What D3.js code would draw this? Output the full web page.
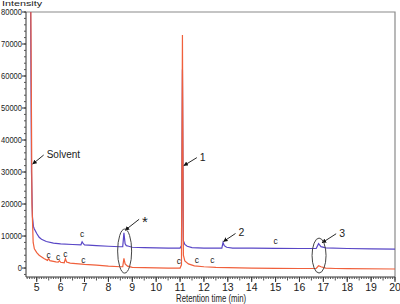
<!DOCTYPE html>
<html>
<head>
<meta charset="utf-8">
<script src="https://cdn.jsdelivr.net/npm/d3@7"></script>
<style>
  body { margin: 0; background: #fff; }
  svg text { font-family: Arial, "Liberation Sans", sans-serif; fill: #222; }
</style>
</head>
<body>
<div id="chart"></div>
<script>
// Retention times (min) and intensities.
const blueTimes = [4.70, 4.74, 4.78, 4.82, 4.86, 4.90, 5.00, 5.10, 5.20, 5.40, 5.70, 6.00, 6.50, 6.85, 6.90, 6.95, 7.00, 7.50, 8.00, 8.50, 8.60, 8.65, 8.70, 8.75, 8.85, 9.00, 9.50, 10.00, 10.50, 11.00, 11.06, 11.10, 11.14, 11.20, 11.30, 11.50, 12.00, 12.50, 12.75, 12.80, 12.85, 12.95, 13.20, 14.00, 15.00, 16.00, 16.70, 16.80, 16.90, 17.10, 18.00, 19.00, 20.00];
const blueValues = [85000, 85000, 30000, 16000, 13000, 12200, 10800, 9600, 9000, 8300, 7800, 7550, 7350, 7250, 8200, 7600, 7250, 7000, 6800, 6650, 6700, 11000, 7600, 7000, 6800, 6500, 6400, 6300, 6250, 6250, 7000, 62000, 8500, 7400, 6800, 6400, 6250, 6200, 6200, 8000, 7000, 6500, 6250, 6200, 6150, 6100, 6100, 7600, 6700, 6300, 6100, 6000, 5900];

const redTimes = [4.70, 4.75, 4.80, 4.85, 4.90, 5.00, 5.10, 5.30, 5.45, 5.50, 5.55, 5.80, 5.90, 5.95, 6.00, 6.15, 6.20, 6.25, 6.40, 7.00, 7.50, 8.00, 8.50, 8.60, 8.65, 8.70, 8.80, 9.00, 9.50, 10.00, 10.50, 11.00, 11.06, 11.10, 11.14, 11.20, 11.35, 11.60, 12.00, 12.50, 13.00, 14.00, 15.00, 16.00, 16.70, 16.80, 16.90, 17.10, 17.50, 18.00, 20.00];
const redValues = [85000, 85000, 20000, 8000, 6000, 4800, 4000, 3000, 2400, 3000, 2300, 1900, 1850, 2300, 1800, 1650, 2900, 1900, 1550, 1150, 900, 600, 400, 450, 3000, 1300, 600, 200, 100, 50, 0, 0, 1000, 72800, 4000, 2200, 1300, 700, 400, 200, 100, 0, -100, -150, -150, 700, 400, 0, -150, -200, -300];

const yTicks = [0, 10000, 20000, 30000, 40000, 50000, 60000, 70000, 80000];
const xTicks = [5, 6, 7, 8, 9, 10, 11, 12, 13, 14, 15, 16, 17, 18, 19, 20];

// Small "c" markers: [time, intensity of label, series]
const cLabels = [[6.9, 9700, 'b'], [15.0, 7500, 'b'], [5.5, 3200, 'r'], [5.9, 2500, 'r'], [6.2, 3400, 'r'], [6.95, 1600, 'r'], [10.95, 1300, 'r'], [11.7, 1600, 'r'], [12.35, 1600, 'r']];

const W = 400, H = 304;
const margin = {top: 12, right: 5, bottom: 27, left: 26};
const width = W - margin.left - margin.right;
const height = H - margin.top - margin.bottom;

const svg = d3.select('#chart').append('svg')
    .attr('width', W).attr('height', H);
const g = svg.append('g')
    .attr('transform', `translate(${margin.left},${margin.top})`);

const x = d3.scaleLinear().domain([4.55, 20]).range([0, width]);
const y = d3.scaleLinear().domain([-2800, 80000]).range([height, 0]);

const blueColor = '#5846c6';
const redColor = '#f0603c';

// Frame (top and right), grey.
g.append('path')
    .attr('d', `M0,0H${width}V${height}`)
    .attr('fill', 'none').attr('stroke', '#8a8a8a').attr('stroke-width', 1.2);

// Traces.
g.append('clipPath').attr('id', 'clip')
    .append('rect').attr('width', width).attr('height', height);
const line = d3.line().x(d => x(d[0])).y(d => y(d[1]));
const plot = g.append('g').attr('clip-path', 'url(#clip)');
plot.append('path')
    .datum(blueTimes.map((t, i) => [t, blueValues[i]]))
    .attr('d', line).attr('fill', 'none')
    .attr('stroke', blueColor).attr('stroke-width', 1.2);
plot.append('path')
    .datum(redTimes.map((t, i) => [t, redValues[i]]))
    .attr('d', line).attr('fill', 'none')
    .attr('stroke', redColor).attr('stroke-width', 1.2);

// Y axis with minor ticks.
const yAxis = g.append('g');
yAxis.append('line').attr('y1', 0).attr('y2', height).attr('stroke', '#333');
yAxis.selectAll('.minor')
    .data(d3.range(-2000, 80001, 2000))
    .enter().append('line')
        .attr('x1', -2).attr('x2', 0)
        .attr('y1', d => y(d)).attr('y2', d => y(d))
        .attr('stroke', '#555');
yAxis.selectAll('.major')
    .data(yTicks)
    .enter().append('line')
        .attr('x1', -4).attr('x2', 0)
        .attr('y1', d => y(d)).attr('y2', d => y(d))
        .attr('stroke', '#333');
// The original uses a narrow face; squeeze the labels to the same width.
yAxis.selectAll('text')
    .data(yTicks)
    .enter().append('text')
        .attr('x', -4).attr('y', d => y(d) + 3.3)
        .attr('text-anchor', 'end')
        .style('font-size', '9.5px')
        .attr('textLength', d => String(d).length * 4.2)
        .attr('lengthAdjust', 'spacingAndGlyphs')
        .text(d => d);

// X axis with minor ticks.
const xAxis = g.append('g').attr('transform', `translate(0,${height})`);
xAxis.append('line').attr('x1', 0).attr('x2', width).attr('stroke', '#333');
xAxis.selectAll('.minor')
    .data(d3.range(46, 201).map(d => d / 10))
    .enter().append('line')
        .attr('x1', d => x(d)).attr('x2', d => x(d))
        .attr('y1', 0).attr('y2', d => (Math.round(d * 10) % 5 === 0 ? 3.5 : 2))
        .attr('stroke', '#555');
xAxis.selectAll('.major')
    .data(xTicks)
    .enter().append('line')
        .attr('x1', d => x(d)).attr('x2', d => x(d))
        .attr('y1', 0).attr('y2', 5)
        .attr('stroke', '#333');
xAxis.selectAll('text')
    .data(xTicks)
    .enter().append('text')
        .attr('x', d => x(d)).attr('y', 14)
        .attr('text-anchor', 'middle')
        .style('font-size', '10.5px')
        .text(d => d);
xAxis.append('text')
    .attr('x', x(12.3)).attr('y', 25)
    .attr('text-anchor', 'middle')
    .style('font-size', '11px')
    .attr('textLength', 70)
    .attr('lengthAdjust', 'spacingAndGlyphs')
    .text('Retention time (min)');

svg.append('text')
    .attr('x', 2).attr('y', 5.5)
    .style('font-size', '8px')
    .attr('textLength', 40)
    .attr('lengthAdjust', 'spacingAndGlyphs')
    .text('Intensity');

// Annotations: arrows and labels.
svg.append('defs').append('marker')
    .attr('id', 'arrow').attr('viewBox', '0 0 10 10')
    .attr('refX', 9).attr('refY', 5)
    .attr('markerWidth', 5).attr('markerHeight', 5)
    .attr('orient', 'auto')
    .append('path').attr('d', 'M0,0L10,5L0,10z').attr('fill', '#111');

const notes = [
    {text: 'Solvent', t: 4.83, v: 32500, dx: 11, dy: -9, size: '10px'},
    {text: '1', t: 11.16, v: 32000, dx: 13, dy: -8, size: '10.5px'},
    {text: '2', t: 12.82, v: 8300, dx: 12, dy: -8, size: '10.5px'},
    {text: '3', t: 16.95, v: 7900, dx: 14, dy: -9, size: '10.5px'},
    {text: '*', t: 8.7, v: 11800, dx: 14, dy: -11, size: '15px'}
];
const ann = g.append('g');
notes.forEach(n => {
    const px = x(n.t), py = y(n.v);
    ann.append('line')
        .attr('x1', px + n.dx).attr('y1', py + n.dy)
        .attr('x2', px).attr('y2', py)
        .attr('stroke', '#111').attr('stroke-width', 0.9)
        .attr('marker-end', 'url(#arrow)');
    ann.append('text')
        .attr('x', px + n.dx + 3).attr('y', py + n.dy + (n.text === '*' ? 8 : 3))
        .style('font-size', n.size)
        .text(n.text);
});

// Ellipses around the marked peaks.
[[8.68, 5300, 7, 22], [16.82, 3900, 7, 17.5]].forEach(e => {
    ann.append('ellipse')
        .attr('cx', x(e[0])).attr('cy', y(e[1]))
        .attr('rx', e[2]).attr('ry', e[3])
        .attr('fill', 'none').attr('stroke', '#444').attr('stroke-width', 1);
});

ann.selectAll('.c')
    .data(cLabels)
    .enter().append('text')
        .attr('x', d => x(d[0])).attr('y', d => y(d[1]))
        .attr('text-anchor', 'middle')
        .style('font-size', '8.5px')
        .text('c');
</script>
</body>
</html>
